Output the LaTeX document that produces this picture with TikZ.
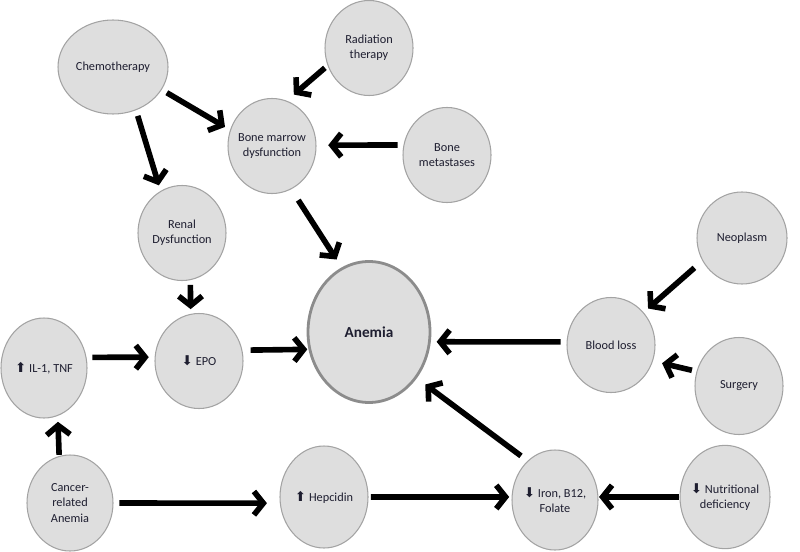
\documentclass[tikz,border=0pt]{standalone}
\usepackage{fontspec}
\setmainfont{Carlito}
\newfontfamily\symfont{DejaVu Sans}
\usetikzlibrary{shapes.geometric,arrows.meta}
\definecolor{bubble}{HTML}{DEDEDE}
\definecolor{rim}{HTML}{A3A3A3}
\definecolor{rimdark}{HTML}{8C8C8C}
\definecolor{ink}{HTML}{1E1E30}
\newcommand{\incr}{{\symfont\fontsize{11.5}{13}\selectfont ⬆}}
\newcommand{\decr}{{\symfont\fontsize{11.5}{13}\selectfont ⬇}}
\tikzset{
  factor/.style ={ellipse, draw=rim, fill=bubble, line width=0.9pt,
                  minimum width=2.64cm, minimum height=2.85cm,
                  inner xsep=-10pt, inner ysep=0pt, align=center,
                  font=\fontsize{10.5}{13}\selectfont, text=ink},
  % the outcome: same bubble, bigger, heavier rim
  outcome/.style={factor, draw=rimdark, line width=2.4pt,
                  minimum width=3.66cm, minimum height=4.23cm,
                  font=\fontsize{13}{15}\selectfont\bfseries},
  link/.style   ={-{Straight Barb[length=8pt,width=20pt]}, line width=4.8pt,
                  shorten <=5pt, shorten >=5pt},
}

\begin{document}
\begin{tikzpicture}
    \useasboundingbox (0,0) rectangle (24,16.53);
    \node[factor, minimum width=3.3cm, minimum height=2.82cm] (chemo) at (3.39,14.52) {Chemotherapy};
    \node[factor] (radio)  at (11.07,15.09) {Radiation\\therapy};
    \node[factor] (marrow) at (8.16,12.15)  {Bone marrow\\dysfunction};
    \node[factor] (mets)   at (13.41,11.88) {Bone\\metastases};
    \node[factor] (renal)  at (5.46,9.54)   {Renal\\Dysfunction};
    \node[factor] (epo)    at (5.97,5.70)   {\decr\ EPO};
    \node[factor, minimum width=2.58cm, minimum height=3cm] (cyto) at (1.32,5.49) {\incr\ IL-1, TNF};
    \node[factor, minimum width=2.58cm, minimum height=2.88cm] (cra) at (2.10,1.44) {Cancer-\\related\\Anemia};
    \node[factor, minimum height=3.06cm] (hepc) at (9.72,1.62) {\incr\ Hepcidin};
    \node[factor, minimum width=2.58cm, minimum height=3cm] (iron) at (16.65,1.53) {\decr\ Iron, B12,\\Folate};
    \node[factor, minimum width=2.7cm, minimum height=3.1cm] (nutri) at (21.75,1.62) {\decr\ Nutritional\\deficiency};
    \node[outcome] (anemia) at (11.07,6.57) {Anemia};
    \node[factor] (blood)  at (18.33,6.18)  {Blood loss};
    \node[factor, minimum width=2.7cm, minimum height=2.76cm] (neo) at (22.26,9.39) {Neoplasm};
    \node[factor, minimum height=2.91cm] (surg) at (22.17,4.95) {Surgery};
    % causes -> effects
    \draw[link] (chemo.-25) -- (marrow.159);
    \draw[link] (chemo.-62) -- (renal.117);
    \draw[link, shorten <=3pt, shorten >=8pt] (radio.-157) -- (marrow.72);
    \draw[link, shorten >=10pt] (mets.167) -- (marrow.1);
    \draw[link, shorten <=11pt, shorten >=8pt] (marrow.-66) -- (anemia.113);
    \draw[link, shorten <=4pt, shorten >=4pt] (renal.-80) -- (epo.100);
    \draw[link] (cyto.14) -- (epo.175);
    \draw[link, shorten <=7pt, shorten >=1pt] (epo.14) -- (anemia.196);
    \draw[link] (blood.176) -- (anemia.-9);
    \draw[link, shorten <=9pt] (neo.210) -- (blood.45);
    \draw[link, shorten <=4pt, shorten >=8pt] (surg.161) -- (blood.-21);
    \draw[link, shorten <=1pt] (cra.103) -- (cyto.-74);
    \draw[link, shorten >=11pt] (cra.east) -- (hepc.188);
    \draw[link, shorten <=2pt, shorten >=2pt] (hepc.east) -- (iron.176);
    \draw[link, shorten <=0.5pt, shorten >=0.5pt] (nutri.west) -- (iron.4);
    \draw[link, shorten <=7pt, shorten >=9pt] (iron.125) -- (anemia.-44);
\end{tikzpicture}
\end{document}
